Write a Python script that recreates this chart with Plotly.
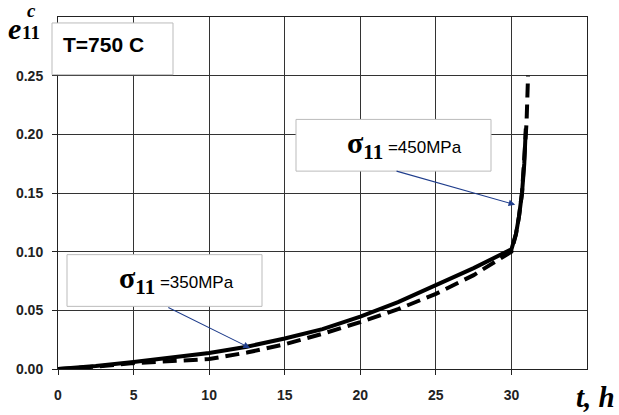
import plotly.graph_objects as go

# Creep strain e11^c vs time t (h), T = 750 C
t_solid = [0, 2.5, 5, 7.5, 10, 12.5, 15, 17.5, 20, 22.5, 25, 27.5, 30, 30.3, 30.5, 30.7, 30.85, 30.95]
e_solid = [0, 0.0025, 0.006, 0.0095, 0.0136, 0.019, 0.026, 0.034, 0.0446, 0.057, 0.0714, 0.086, 0.102,
           0.115, 0.13, 0.15, 0.175, 0.205]

t_dash = [0, 2.5, 5, 7.5, 10, 12.5, 15, 17.5, 20, 22.5, 25, 27.5, 30, 30.3, 30.5, 30.7, 30.85, 31.0, 31.1]
e_dash = [0, 0.002, 0.005, 0.0065, 0.0085, 0.014, 0.021, 0.030, 0.040, 0.051, 0.064, 0.080, 0.100,
          0.115, 0.13, 0.15, 0.175, 0.21, 0.25]

x_ticks = [0, 5, 10, 15, 20, 25, 30]
y_ticks = [0.00, 0.05, 0.10, 0.15, 0.20, 0.25]

W, H = 619, 415
L, R, T, B = 58, 32, 17, 44
PW, PH = W - L - R, H - T - B


def px(x):
    return (x - L) / PW


def py(y):
    return (H - B - y) / PH


fig = go.Figure()
fig.add_trace(go.Scatter(x=t_dash, y=e_dash, mode="lines",
                         line=dict(color="black", width=4, dash="14px,7px"), showlegend=False))
fig.add_trace(go.Scatter(x=t_solid, y=e_solid, mode="lines",
                         line=dict(color="black", width=4), showlegend=False))

tickfont = dict(family="Liberation Sans, Arial, sans-serif", size=14, color="#222", weight="bold")
fig.update_xaxes(range=[0, 35], tickvals=x_ticks, ticktext=[str(v) for v in x_ticks],
                 showgrid=True, gridcolor="#333", gridwidth=1, showline=True, linecolor="#222",
                 linewidth=1, mirror=True, ticks="outside", ticklen=5, tickcolor="#222",
                 tickfont=tickfont, zeroline=False, ticklabelstandoff=8)
fig.update_yaxes(range=[0, 0.30], tickvals=y_ticks, ticktext=[f"{v:.2f}" for v in y_ticks],
                 showgrid=True, gridcolor="#333", gridwidth=1, showline=True, linecolor="#222",
                 linewidth=1, mirror=True, ticks="outside", ticklen=5, tickcolor="#222",
                 tickfont=tickfont, zeroline=False, ticklabelstandoff=6)

# Label boxes
boxes = [(52, 23, 173, 75), (296, 120, 491, 172), (67, 256, 262, 308)]
for x0, y0, x1, y1 in boxes:
    fig.add_shape(type="rect", xref="paper", yref="paper", x0=px(x0), x1=px(x1), y0=py(y1), y1=py(y0),
                  fillcolor="white", line=dict(color="#bbbbbb", width=1), layer="above")

serif = "Liberation Serif, Times New Roman, serif"
sans = "Liberation Sans, Arial, sans-serif"

fig.add_annotation(xref="paper", yref="paper", x=px(61), y=py(45), xanchor="left", yanchor="middle",
                   text="<b>T=750 C</b>", showarrow=False,
                   font=dict(family=sans, size=21, color="black"))


def sigma_text(val):
    return (f"<span style='font-family:{serif};font-size:30px'><b>σ<sub>11</sub></b></span>"
            f"<span style='font-family:{sans};font-size:17px'> ={val}MPa</span>")


fig.add_annotation(xref="paper", yref="paper", x=px(404), y=py(146), xanchor="center", yanchor="middle",
                   text=sigma_text(450), showarrow=False, font=dict(color="black"))
fig.add_annotation(xref="paper", yref="paper", x=px(176), y=py(281), xanchor="center", yanchor="middle",
                   text=sigma_text(350), showarrow=False, font=dict(color="black"))

# Arrows
arrow_col = "#1f3d8c"
fig.add_annotation(x=30.25, y=0.140, ax=22.3, ay=0.169, xref="x", yref="y", axref="x", ayref="y",
                   text="", showarrow=True, arrowhead=2, arrowsize=1.2, arrowwidth=1.1, arrowcolor=arrow_col)
fig.add_annotation(x=12.7, y=0.018, ax=7.2, ay=0.053, xref="x", yref="y", axref="x", ayref="y",
                   text="", showarrow=True, arrowhead=2, arrowsize=1.2, arrowwidth=1.1, arrowcolor=arrow_col)

# Axis titles
fig.add_annotation(xref="paper", yref="paper", x=px(14), y=py(29), xanchor="center", yanchor="middle",
                   text="<b><i>e</i></b>", showarrow=False, font=dict(family=serif, size=30, color="black"))
fig.add_annotation(xref="paper", yref="paper", x=px(31), y=py(10), xanchor="center", yanchor="middle",
                   text="<b><i>c</i></b>", showarrow=False, font=dict(family=serif, size=19, color="black"))
fig.add_annotation(xref="paper", yref="paper", x=px(31), y=py(33), xanchor="center", yanchor="middle",
                   text="<b>11</b>", showarrow=False, font=dict(family=serif, size=19, color="black"))
fig.add_annotation(xref="paper", yref="paper", x=px(595), y=py(399), xanchor="center", yanchor="middle",
                   text="<b><i>t, h</i></b>", showarrow=False, font=dict(family=serif, size=29, color="black"))

fig.update_layout(width=W, height=H, margin=dict(l=L, r=R, t=T, b=B),
                  paper_bgcolor="white", plot_bgcolor="white", showlegend=False)

fig.write_html("out.html", config={"displayModeBar": False},
               post_script="document.body.style.margin='0';document.body.style.padding='0';")
